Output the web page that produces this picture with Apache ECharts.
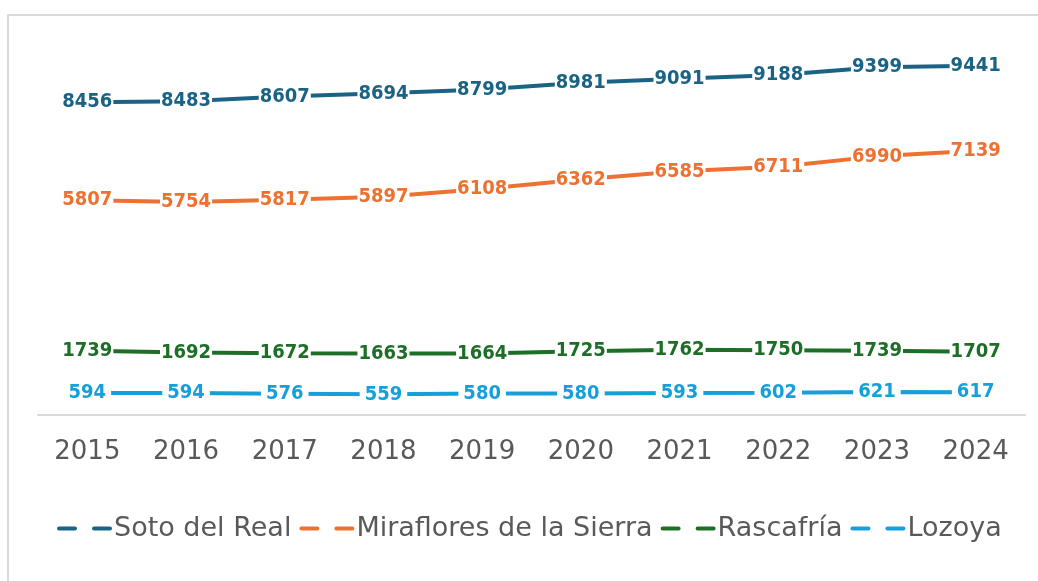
<!DOCTYPE html>
<html>
<head>
<meta charset="utf-8">
<script src="https://cdn.jsdelivr.net/npm/echarts@6/dist/echarts.min.js"></script>
<style>
  html, body { margin: 0; padding: 0; background: #fff; }
  #main { width: 1038px; height: 581px; }
</style>
</head>
<body>
<div id="main"></div>
<script>
const years = ['2015', '2016', '2017', '2018', '2019', '2020', '2021', '2022', '2023', '2024'];
const sotoDelReal = [8456, 8483, 8607, 8694, 8799, 8981, 9091, 9188, 9399, 9441];
const miraflores = [5807, 5754, 5817, 5897, 6108, 6362, 6585, 6711, 6990, 7139];
const rascafria = [1739, 1692, 1672, 1663, 1664, 1725, 1762, 1750, 1739, 1707];
const lozoya = [594, 594, 576, 559, 580, 580, 593, 602, 621, 617];

const names = ['Soto del Real', 'Miraflores de la Sierra', 'Rascafría', 'Lozoya'];
const colors = ['#1b6384', '#ed7131', '#1d6e26', '#169fd9'];
const values = [sotoDelReal, miraflores, rascafria, lozoya];

const labelFont = '"Liberation Sans Narrow", "DejaVu Sans Condensed", sans-serif';

const chart = echarts.init(document.getElementById('main'));

const series = names.map((name, i) => ({
  name,
  type: 'line',
  data: values[i],
  symbol: 'circle',
  symbolSize: 1,
  itemStyle: { color: colors[i] },
  lineStyle: { color: colors[i], width: 4 },
  label: {
    show: true,
    position: 'inside',
    color: colors[i],
    fontFamily: labelFont,
    fontWeight: 'bold',
    fontSize: 20,
    backgroundColor: '#fff',
    padding: i === 3 ? [1, 5] : [1, 1],
  },
  emphasis: { disabled: true },
}));

chart.setOption({
  animation: false,
  graphic: [
    {
      type: 'rect',
      shape: { x: 8, y: 15, width: 1100, height: 700 },
      style: { fill: 'none', stroke: '#d9d9d9', lineWidth: 2 },
      silent: true,
    },
  ],
  grid: { left: 38, right: 13, top: 45, bottom: 166 },
  legend: {
    top: 510,
    left: 52,
    itemWidth: 54,
    itemHeight: 14,
    itemGap: 8,
    textStyle: { color: '#595959', fontSize: 27, fontFamily: '"DejaVu Sans", Verdana, sans-serif', padding: [0, 0, 0, -4] },
    lineStyle: { type: [16, 19], width: 4, cap: 'round' },
    itemStyle: { opacity: 0 },
    data: names,
  },
  xAxis: {
    type: 'category',
    data: years,
    boundaryGap: true,
    axisLine: { lineStyle: { color: '#d9d9d9', width: 2 } },
    axisTick: { show: false },
    axisLabel: {
      color: '#595959',
      fontSize: 26,
      fontFamily: '"DejaVu Sans", Verdana, sans-serif',
      margin: 24,
    },
  },
  yAxis: {
    type: 'value',
    min: 0,
    max: 10000,
    show: false,
    splitLine: { show: false },
  },
  series,
});
</script>
</body>
</html>
